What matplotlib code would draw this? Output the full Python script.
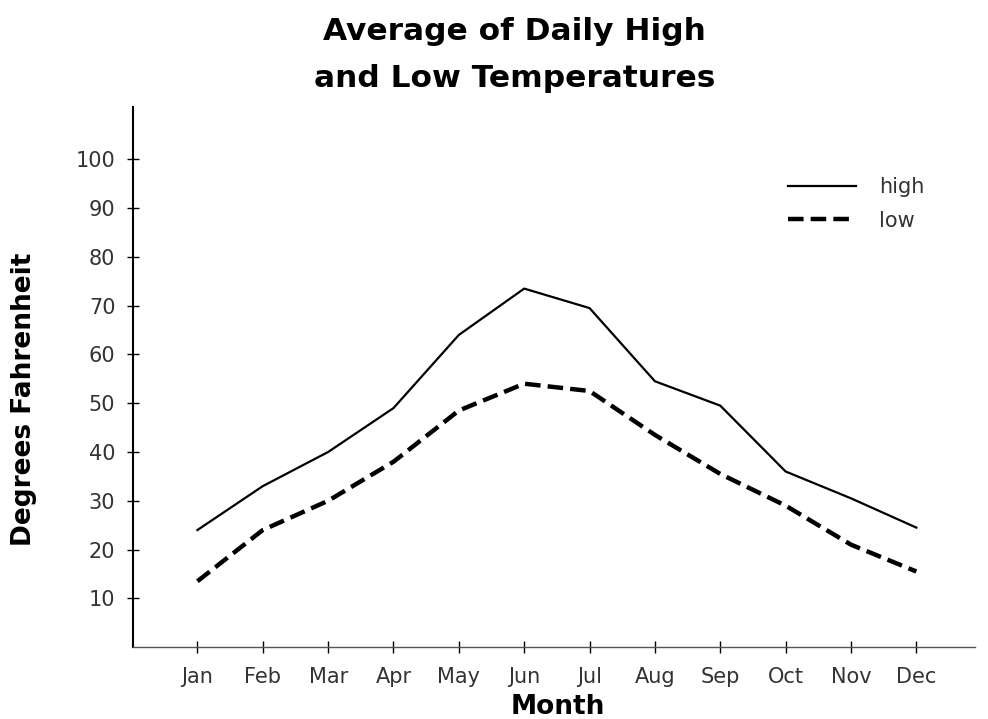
import matplotlib
matplotlib.use('Agg')
import matplotlib.pyplot as plt

# Data
months = ['Jan', 'Feb', 'Mar', 'Apr', 'May', 'Jun',
          'Jul', 'Aug', 'Sep', 'Oct', 'Nov', 'Dec']
high = [24, 33, 40, 49, 64, 73.5, 69.5, 54.5, 49.5, 36, 30.5, 24.5]
low = [13.5, 24, 30, 38, 48.5, 54, 52.5, 43.5, 35.5, 29, 21, 15.5]
y_ticks = [10, 20, 30, 40, 50, 60, 70, 80, 90, 100]

plt.rcParams['font.family'] = ['DejaVu Sans']

fig = plt.figure(figsize=(9.88, 7.19), dpi=100)
ax = fig.add_axes([0.135, 0.100, 0.852, 0.751])

x = list(range(1, len(months) + 1))
ax.plot(x, high, color='black', linewidth=1.6, label='high')
ax.plot(x, low, color='black', linewidth=3.2, linestyle=(0, (3.5, 1.6)),
        label='low')

ax.set_xlim(0.02, 12.9)
ax.set_ylim(0, 110.7)
ax.set_xticks(x)
ax.set_xticklabels(months)
ax.set_yticks(y_ticks)

for side in ['top', 'right']:
    ax.spines[side].set_visible(False)
ax.spines['left'].set_linewidth(1.5)
ax.spines['bottom'].set_linewidth(1.0)
ax.spines['bottom'].set_color('#555555')

ax.tick_params(axis='both', direction='inout', length=8, width=1,
               labelsize=15, labelcolor='#333333')
ax.tick_params(axis='x', pad=10)
ax.tick_params(axis='y', pad=9)

ax.set_ylabel('Degrees Fahrenheit', fontsize=19, fontweight='bold')
ax.yaxis.set_label_coords(-0.115, 0.459)
ax.set_xlabel('Month', fontsize=19, fontweight='bold')
ax.xaxis.set_label_coords(0.504, -0.087)
fig.suptitle('Average of Daily High\nand Low Temperatures', x=0.521, y=0.976,
             fontsize=22.5, fontweight='bold', linespacing=1.75)

leg = ax.legend(loc='upper left', bbox_to_anchor=(0.755, 0.905), frameon=False,
                handlelength=3.3, handletextpad=1.1, labelspacing=0.65,
                prop={'size': 15})
for t in leg.get_texts():
    t.set_color('#333333')

plt.savefig('out.png', dpi=100)
